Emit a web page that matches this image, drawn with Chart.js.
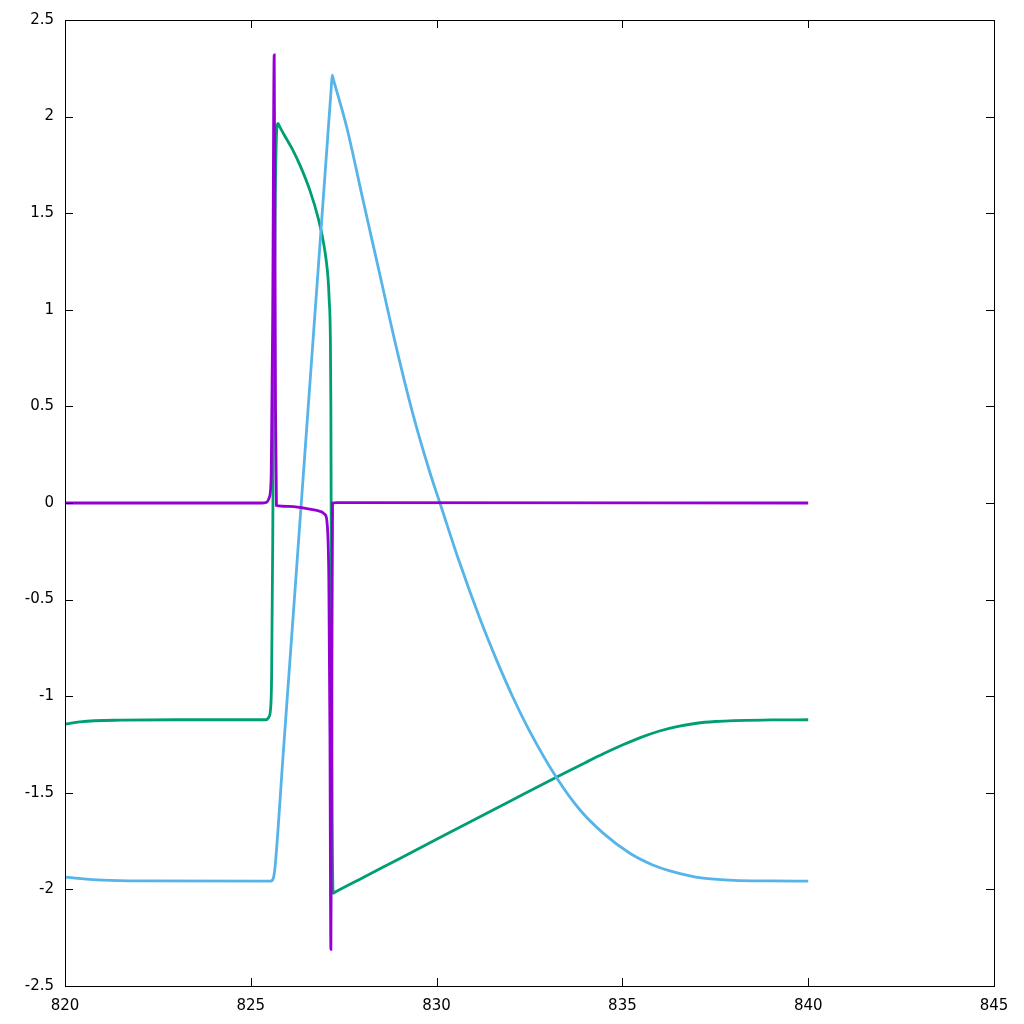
<!DOCTYPE html>
<html>
<head>
<meta charset="utf-8">
<script src="https://cdn.jsdelivr.net/npm/chart.js@4/dist/chart.umd.min.js"></script>
<style>
  html, body { margin: 0; padding: 0; background: #fff; }
  canvas { display: block; }
</style>
</head>
<body>
<canvas id="chart" width="1024" height="1024"></canvas>
<script>
// axis ticks
const xTicks = [820, 825, 830, 835, 840, 845];
const yTicks = [-2.5, -2, -1.5, -1, -0.5, 0, 0.5, 1, 1.5, 2, 2.5];

// purple series
const purpleX = [820, 825.3, 825.42, 825.5, 825.55, 825.59, 825.63, 825.665, 825.69, 826.0, 826.4, 826.8, 827.0, 827.06, 827.1, 827.13, 827.155, 827.18, 827.2, 827.3, 840];
const purpleY = [0, 0, 0.003, 0.03, 0.15, 1.0, 2.32, 0.5, -0.012, -0.017, -0.025, -0.04, -0.06, -0.12, -0.4, -1.2, -2.31, -1.0, 0.0, 0.002, 0.0];

// green series
const greenX = [820, 820.4, 820.8, 821.5, 823, 825.4, 825.48, 825.53, 825.56, 825.59, 825.62, 825.66, 825.7, 825.73, 825.77, 825.9, 826.1, 826.32, 826.59, 826.82, 826.95, 827.03, 827.08, 827.11, 827.14, 827.155, 827.17, 827.19, 827.215, 827.25, 828, 829, 830, 831, 832, 833, 833.5, 834, 834.5, 835, 835.5, 836, 836.5, 837, 837.5, 838, 839, 840];
const greenY = [-1.144, -1.133, -1.127, -1.124, -1.122, -1.122, -1.11, -1.07, -0.9, -0.2, 0.8, 1.6, 1.94, 1.965, 1.951, 1.905, 1.838, 1.75, 1.618, 1.47, 1.355, 1.255, 1.16, 1.05, 0.87, 0.5, -0.6, -1.6, -2.02, -2.016, -1.941, -1.841, -1.741, -1.641, -1.541, -1.441, -1.392, -1.344, -1.297, -1.253, -1.213, -1.18, -1.156, -1.14, -1.131, -1.126, -1.123, -1.122];

// blue series
const blueX = [820, 820.5, 821, 822, 825.5, 825.56, 825.61, 825.65, 825.87, 826.14, 826.35, 826.59, 826.82, 827.0, 827.16, 827.19, 827.22, 827.58, 828.03, 828.48, 828.93, 829.37, 829.82, 830.09, 830.6, 831.17, 831.62, 832.06, 832.51, 833.23, 833.86, 834.49, 835.2, 835.8, 836.3, 837.17, 838, 839, 840];
const blueY = [-1.936, -1.946, -1.952, -1.956, -1.957, -1.955, -1.94, -1.89, -1.303, -0.584, -0.024, 0.616, 1.229, 1.709, 2.135, 2.215, 2.194, 1.946, 1.559, 1.176, 0.794, 0.455, 0.158, 0, -0.298, -0.601, -0.816, -1.008, -1.183, -1.422, -1.589, -1.71, -1.813, -1.872, -1.905, -1.942, -1.953, -1.956, -1.957];

function pts(xs, ys) {
  return xs.map((x, i) => ({x: x, y: ys[i]}));
}

// gnuplot style frame with inward ticks on all four sides
const frame = {
  id: 'frame',
  afterDraw(chart) {
    const ctx = chart.ctx;
    const a = chart.chartArea;
    const xs = chart.scales.x, ys = chart.scales.y;
    const len = 8;
    ctx.save();
    ctx.strokeStyle = '#000';
    ctx.lineWidth = 1;
    ctx.beginPath();
    xTicks.forEach(v => {
      const px = Math.round(xs.getPixelForValue(v)) + 0.5;
      ctx.moveTo(px, a.bottom); ctx.lineTo(px, a.bottom - len);
      ctx.moveTo(px, a.top); ctx.lineTo(px, a.top + len);
    });
    yTicks.forEach(v => {
      const py = Math.round(ys.getPixelForValue(v)) + 0.5;
      ctx.moveTo(a.left, py); ctx.lineTo(a.left + len, py);
      ctx.moveTo(a.right, py); ctx.lineTo(a.right - len, py);
    });
    ctx.stroke();
    ctx.strokeRect(Math.round(a.left) + 0.5, Math.round(a.top) + 0.5,
      Math.round(a.right - a.left), Math.round(a.bottom - a.top));
    ctx.restore();
  }
};

const font = {family: 'DejaVu Sans', size: 15};

new Chart(document.getElementById('chart'), {
  type: 'scatter',
  data: {
    datasets: [
      {data: pts(purpleX, purpleY), borderColor: '#9400d3'},
      {data: pts(blueX, blueY), borderColor: '#56b4e9'},
      {data: pts(greenX, greenY), borderColor: '#009e73'}
    ].map(d => Object.assign(d, {showLine: true, pointRadius: 0, borderWidth: 2.8, cubicInterpolationMode: 'monotone', fill: false}))
  },
  options: {
    responsive: false,
    animation: false,
    devicePixelRatio: 1,
    layout: {padding: {top: 20, right: 30, left: 0, bottom: 0}},
    plugins: {legend: {display: false}, tooltip: {enabled: false}},
    scales: {
      x: {
        type: 'linear', min: 820, max: 845,
        afterBuildTicks: s => { s.ticks = xTicks.map(v => ({value: v})); },
        afterFit: s => { s.height = 38; },
        grid: {display: false, drawTicks: false},
        border: {display: false},
        ticks: {color: '#000', font: font, padding: 11, maxRotation: 0, callback: v => String(v)}
      },
      y: {
        type: 'linear', min: -2.5, max: 2.5,
        afterBuildTicks: s => { s.ticks = yTicks.map(v => ({value: v})); },
        afterFit: s => { s.width = 65; },
        grid: {display: false, drawTicks: false},
        border: {display: false},
        ticks: {color: '#000', font: font, padding: 11, callback: v => String(v)}
      }
    }
  },
  plugins: [frame]
});
</script>
</body>
</html>
